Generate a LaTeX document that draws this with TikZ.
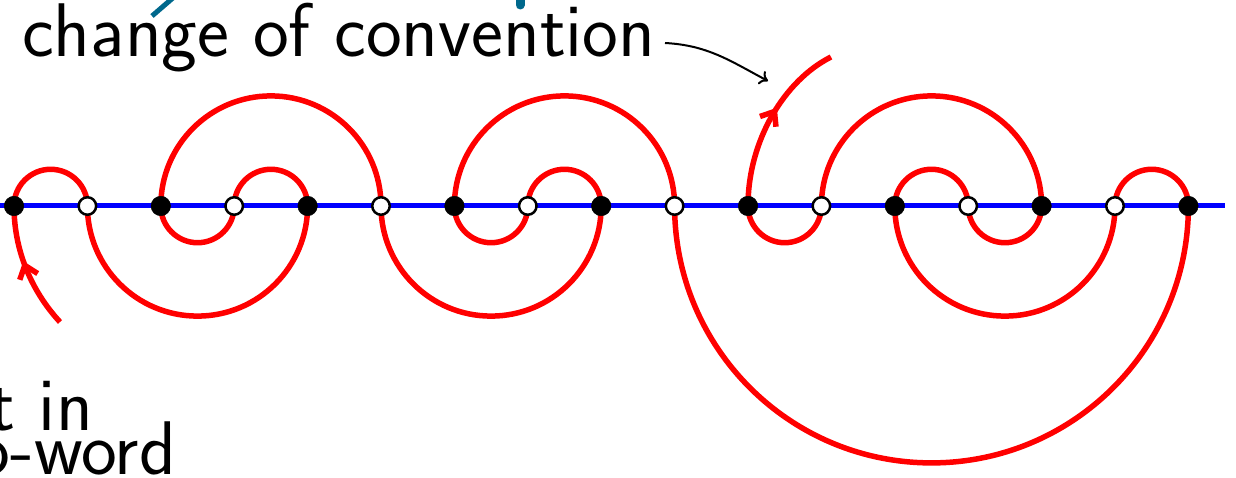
\documentclass[tikz,border=0pt]{standalone}
\usetikzlibrary{arrows.meta,decorations.markings}
\definecolor{titleteal}{RGB}{0,104,140}
\pgfdeclarelayer{bg}
\pgfsetlayers{bg,main}
\tikzset{
  redarc/.style={draw=red, line width=5.5pt},
  blueline/.style={draw=blue, line width=5pt},
  bnode/.style={circle, fill=black, draw=black, line width=0.5pt, minimum size=19.5pt, inner sep=0pt},
  wnode/.style={circle, fill=white, draw=black, line width=2.5pt, minimum size=17.5pt, inner sep=0pt},
  bigtext/.style={inner sep=0pt, font=\fontsize{76}{90}\selectfont\sffamily},
  redtip/.style={decoration={markings, mark=at position #1 with {\arrow{Straight Barb[length=12pt,width=19pt]}}}, postaction={decorate}},
}
\begin{document}
\begin{tikzpicture}[x=1pt,y=1pt]
\useasboundingbox (0,0) rectangle (1236,477);
% points on the line
\foreach \i in {1,...,17}{
  \pgfmathsetmacro{\xx}{14+73.4*(\i-1)}
  \pgfmathparse{int(mod(\i,2))}
  \ifnum\pgfmathresult=1
    \node[bnode] (p\i) at (\xx,271) {};
  \else
    \node[wnode] (p\i) at (\xx,271) {};
  \fi
}
\coordinate (lineL) at (0,271);
\coordinate (lineR) at (1225,271);
\coordinate (t1) at (60,155);
\coordinate (t2) at (831,420);
\begin{pgfonlayer}{bg}
\draw[blueline] (lineL) -- (lineR);
% small arcs above
\foreach \a in {1,4,8,13,16}{
  \draw[redarc] (p\a.center) arc[start angle=180,end angle=0,radius=36.7];
}
% small arcs below
\foreach \a in {3,7,11,14}{
  \draw[redarc] (p\a.center) arc[start angle=180,end angle=360,radius=36.7];
}
% big arcs above
\foreach \a in {3,7,12}{
  \draw[redarc] (p\a.center) arc[start angle=180,end angle=0,radius=110.1];
}
% big arcs below
\foreach \a in {2,6,13}{
  \draw[redarc] (p\a.center) arc[start angle=180,end angle=360,radius=110.1];
}
% huge arc below
\draw[redarc] (p10.center) arc[start angle=180,end angle=360,radius=256.9];
% open ends with arrows
\draw[redarc, redtip=0.56] (t1) .. controls (35,182) and (14,222) .. (p1.center);
\draw[redarc, redtip=0.58] (p11.center) .. controls (748,337) and (785,397) .. (t2);
\end{pgfonlayer}
% texts
\node[bigtext, anchor=base west] (conv) at (22,420) {change of convention};
\coordinate (a1) at (665,434);
\coordinate (a2) at (768,396);
\draw[line width=2pt, -{To[length=8pt,width=15pt]}] (a1) to[out=-3,in=152] (a2);
\node[bigtext, anchor=base east] (l1) at (93,47) {t in};
\node[bigtext, anchor=base east] (l2) at (176,3) {o-word};
% fragments of the cut-off title
\draw[titleteal, line width=5pt] (174,480) -- (152,461);
\draw[titleteal, line width=9pt, line cap=round] (520,484) -- (520,472);
\end{tikzpicture}
\end{document}
